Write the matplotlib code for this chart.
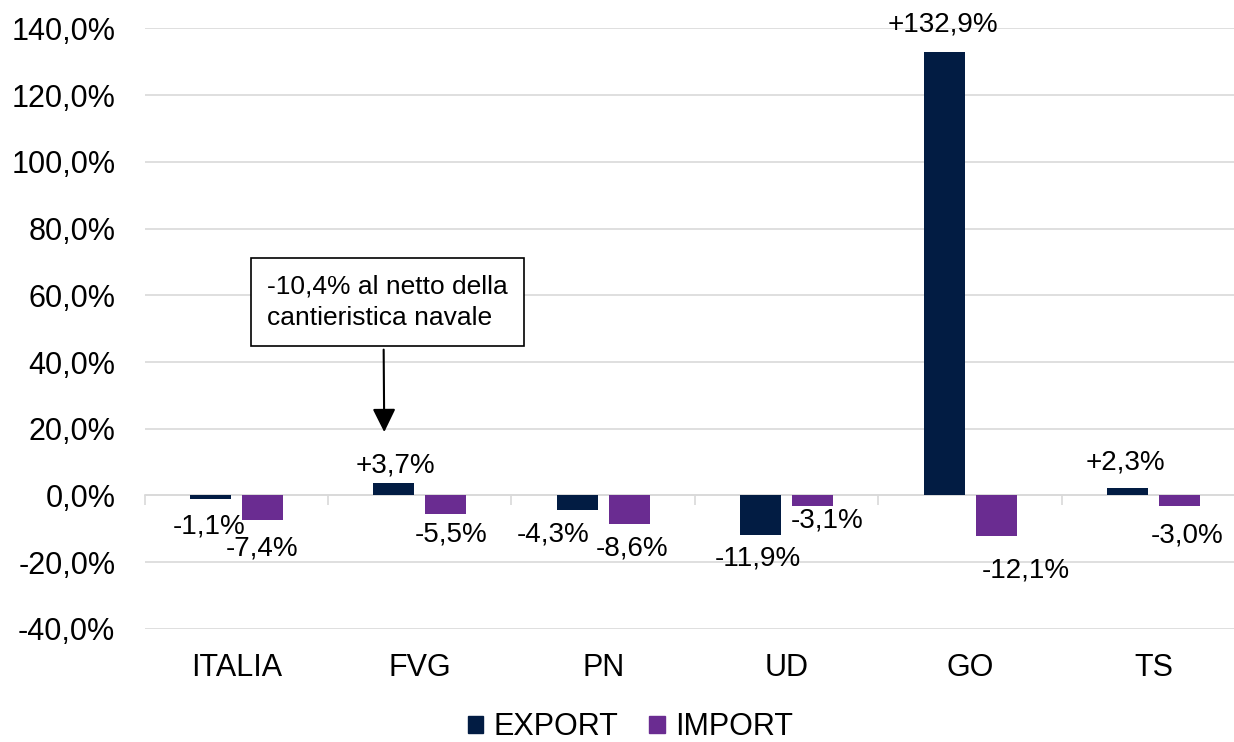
import numpy as np
from matplotlib import pyplot as plt
from matplotlib.patches import Patch

plt.rcParams['font.family'] = ['Liberation Sans', 'DejaVu Sans']

# data
categories = ['ITALIA', 'FVG', 'PN', 'UD', 'GO', 'TS']
export_vals = [-1.1, 3.7, -4.3, -11.9, 132.9, 2.3]
import_vals = [-7.4, -5.5, -8.6, -3.1, -12.1, -3.0]
note_text = '-10,4% al netto della\ncantieristica navale'

# label nudges (pixels) as in the original
exp_off = [(-1, -27), (2, 18), (-24, -25), (-3, -23), (-1, 27), (-2, 25)]
imp_off = [(0, -28), (5, -21), (3, -24), (14, -15), (30, -35), (7, -30)]

c_exp = '#021C43'
c_imp = '#6A2C91'
grid_c = '#D9D9D9'

def fmt(v, sign=True):
    s = f'{v:+.1f}' if sign else f'{v:.1f}'
    return s.replace('.', ',') + '%'

fig = plt.figure(figsize=(12.34, 7.42), dpi=100)
ax = fig.add_axes([0.1171, 0.1523, 0.8922, 0.8096])

x = np.arange(len(categories))
w = 0.223
off = 0.142
b1 = ax.bar(x - off, export_vals, w, color=c_exp, zorder=3)
b2 = ax.bar(x + off, import_vals, w, color=c_imp, zorder=3)

ax.set_xlim(-0.5, len(categories) - 0.5)
ax.set_ylim(-40, 140)
yt = np.arange(-40, 141, 20)
ax.set_yticks(yt)
ax.set_yticklabels([fmt(v, sign=False) for v in yt], fontsize=22)
ax.tick_params(axis='y', length=0, pad=21)
ax.grid(axis='y', color=grid_c, lw=1.2, zorder=0)
ax.set_axisbelow(True)

ax.set_xticks(x)
ax.set_xticklabels(categories, fontsize=22)
ax.tick_params(axis='x', length=0, pad=17)
for s in ax.spines.values():
    s.set_visible(False)

# zero axis with category separators
sec = ax.secondary_xaxis(40 / 180)
sec.set_xticks(np.arange(-0.5, len(categories), 1.0))
sec.set_xticklabels([])
sec.tick_params(axis='x', length=7, width=1.2, color=grid_c, direction='out')
sec.spines['bottom'].set_color(grid_c)
sec.spines['bottom'].set_linewidth(1.2)

for i in range(len(categories)):
    ax.annotate(fmt(export_vals[i]), (x[i] - off, export_vals[i]), xytext=exp_off[i],
                textcoords='offset pixels', ha='center', va='center', fontsize=20)
    ax.annotate(fmt(import_vals[i]), (x[i] + off, import_vals[i]), xytext=imp_off[i],
                textcoords='offset pixels', ha='center', va='center', fontsize=20)

# callout for FVG
ax.annotate(note_text, (0.8065, 19.0), xytext=(-117, 130), textcoords='offset pixels',
            ha='left', va='center', fontsize=19, linespacing=1.4,
            bbox=dict(boxstyle='square,pad=0.62', fc='white', ec='black', lw=1.2),
            arrowprops=dict(arrowstyle='-|>,head_length=0.65,head_width=0.32', color='black',
                            lw=1.5, relpos=(0.483, 0), shrinkA=2, shrinkB=0,
                            mutation_scale=22),
            zorder=5)

handles = [Patch(color=c_exp, label='EXPORT'), Patch(color=c_imp, label='IMPORT')]
fig.legend(handles=handles, loc='center', bbox_to_anchor=(0.511, 0.02), ncol=2,
           frameon=False, fontsize=22, handlelength=0.5, handleheight=0.5,
           handletextpad=0.35, columnspacing=1.0)

fig.savefig('out.png', dpi=100)
